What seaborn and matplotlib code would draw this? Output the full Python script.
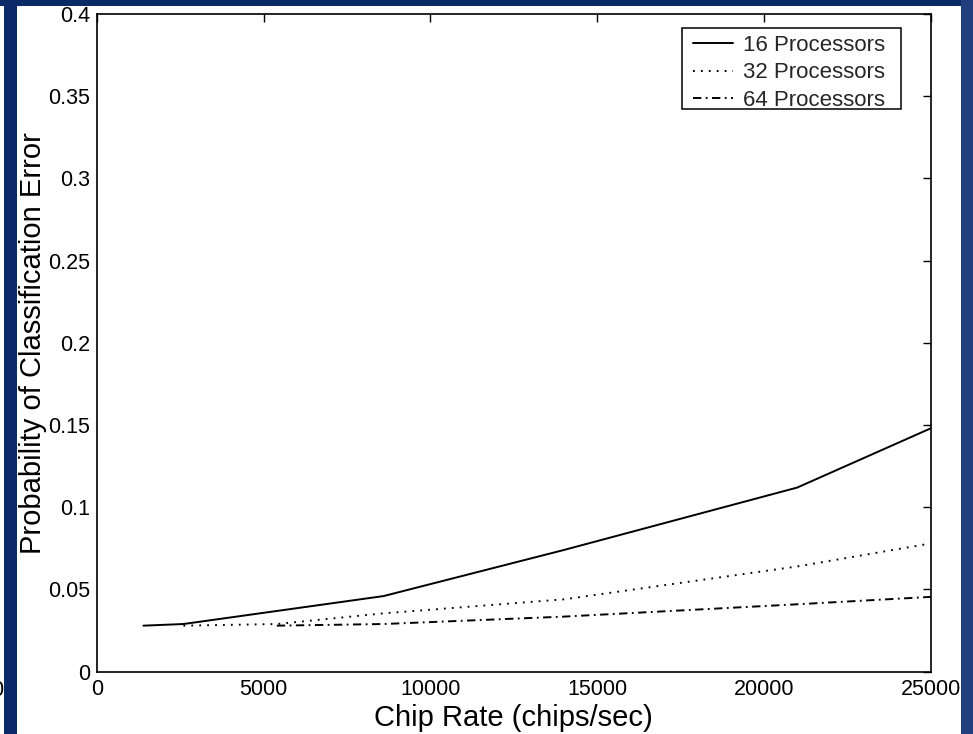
import matplotlib
matplotlib.use("Agg")
import matplotlib.pyplot as plt
import matplotlib.patches as mpatches
from matplotlib.ticker import FuncFormatter
import seaborn as sns
import pandas as pd

# ---- data ----
series_names = ["16 Processors", "32 Processors", "64 Processors"]
x16 = [1400, 2600, 8600, 14000, 21000, 25000]
y16 = [0.028, 0.029, 0.046, 0.074, 0.112, 0.148]
x32 = [2600, 5400, 8600, 14000, 21000, 25000]
y32 = [0.028, 0.029, 0.0355, 0.044, 0.064, 0.078]
x64 = [5400, 8600, 14000, 21000, 25000]
y64 = [0.028, 0.029, 0.0335, 0.041, 0.0455]
x_ticks = [0, 5000, 10000, 15000, 20000, 25000]
y_ticks = [0, 0.05, 0.1, 0.15, 0.2, 0.25, 0.3, 0.35, 0.4]

rows = []
for name, xs, ys in zip(series_names, [x16, x32, x64], [y16, y32, y64]):
    for xv, yv in zip(xs, ys):
        rows.append({"Chip Rate": xv, "Perr": yv, "Series": name})
df = pd.DataFrame(rows)

sns.set_theme(style="white")
plt.rcParams["font.family"] = ["Liberation Sans", "DejaVu Sans"]
plt.rcParams["lines.scale_dashes"] = False

W, H = 973, 734
AX_L, AX_R, AX_T, AX_B = 96.7, 930.7, 14.0, 671.7
fig = plt.figure(figsize=(W / 100, H / 100), dpi=100, facecolor="white")
ax = fig.add_axes([AX_L / W, 1 - AX_B / H, (AX_R - AX_L) / W, (AX_B - AX_T) / H])


def ax_xy(px, py):
    return ((px - AX_L) / (AX_R - AX_L), (AX_B - py) / (AX_B - AX_T))


dash_map = {
    "16 Processors": "",
    "32 Processors": (1.3, 4.4),
    "64 Processors": (6.0, 3.2, 1.3, 3.2),
}
sns.lineplot(data=df, x="Chip Rate", y="Perr", hue="Series", style="Series",
             palette=["black", "black", "black"], dashes=dash_map,
             sort=False, estimator=None, linewidth=1.4, ax=ax, legend=False)

ax.set_xlim(0, 25000)
ax.set_ylim(0, 0.4)
ax.set_xticks(x_ticks)
ax.set_yticks(y_ticks)
ax.yaxis.set_major_formatter(FuncFormatter(lambda v, p: "%g" % v))
ax.xaxis.set_major_formatter(FuncFormatter(lambda v, p: "%d" % v))
ax.tick_params(axis="both", which="major", direction="in", length=5.5, width=1.0,
               labelsize=15.5, colors="black", top=True, right=True, pad=5)
for s in ax.spines.values():
    s.set_visible(True)
    s.set_color("black")
    s.set_linewidth(1.2)

ax.set_xlabel("Chip Rate (chips/sec)", fontsize=21, color="black", labelpad=3)
ax.set_ylabel("Probability of Classification Error", fontsize=21, color="black", labelpad=0.5)

# legend: entries without frame, box drawn separately (MATLAB-like asymmetric padding)
handles = ax.get_lines()[:3]
leg = ax.legend(handles, series_names, loc="upper left", fontsize=16,
                frameon=False, handlelength=1.8, handletextpad=0.45,
                borderpad=0.3, labelspacing=0.29, borderaxespad=0,
                bbox_to_anchor=ax_xy(693 - 6.7, 28.3))
x0, y0 = ax_xy(682, 109)
x1, y1 = ax_xy(900.7, 28)
ax.add_patch(mpatches.Rectangle((x0, y0), x1 - x0, y1 - y0, transform=ax.transAxes,
                                facecolor="white", edgecolor="black", linewidth=1.1,
                                zorder=4))
leg.set_zorder(5)

# stray tick label fragment at far left (cut off in the reference), and navy slide border
fig.text(3 / W, 1 - 690 / H, "0", fontsize=15.5, ha="right", va="center", color="black")
navy = "#0c2a68"
fig.patches.append(mpatches.Rectangle((0, 1 - 5.7 / H), 1, 5.7 / H, transform=fig.transFigure,
                                      facecolor=navy, edgecolor="none", zorder=10))
fig.patches.append(mpatches.Rectangle((4 / W, 0), 12.7 / W, 1, transform=fig.transFigure,
                                      facecolor=navy, edgecolor="none", zorder=10))
fig.patches.append(mpatches.Rectangle((961 / W, 0), 12 / W, 1, transform=fig.transFigure,
                                      facecolor="#213f7d", edgecolor="none", zorder=10))

fig.savefig("out.png", dpi=100, facecolor="white")
